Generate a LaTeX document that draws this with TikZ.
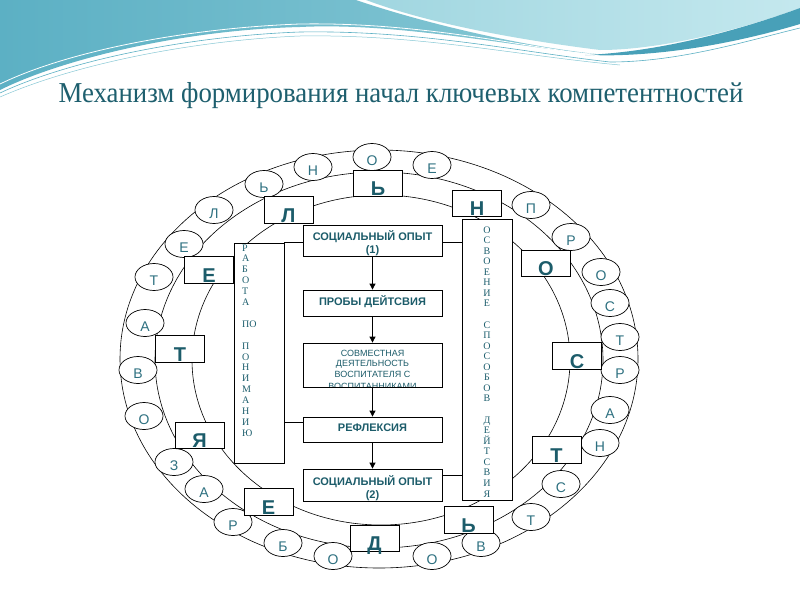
\documentclass[tikz,border=0pt]{standalone}
\usepackage{fontspec}
\setmainfont{Liberation Serif}
\newfontfamily\arialf{Liberation Sans}
\usetikzlibrary{shapes.geometric,arrows.meta}
\definecolor{tealtxt}{RGB}{30,95,110}
\definecolor{ovaltxt}{RGB}{45,112,128}
\definecolor{boxtxt}{RGB}{28,92,106}
\definecolor{waveA}{RGB}{92,176,196}
\definecolor{waveB}{RGB}{135,200,213}
\definecolor{aquaA}{RGB}{160,214,224}
\definecolor{aquaB}{RGB}{196,232,238}
\definecolor{deepwave}{RGB}{72,160,184}
\begin{document}
\begin{tikzpicture}[x=1pt,y=-1pt,
  ring/.style={line width=0.6pt},
  oval/.style={ellipse,draw,fill=white,line width=0.7pt,minimum width=38pt,minimum height=27pt,inner sep=0pt,
    font=\arialf\fontsize{14}{14}\selectfont,text=ovaltxt,text height=16pt,text depth=0pt},
  letterbox/.style={rectangle,draw,fill=white,line width=0.7pt,minimum width=49pt,minimum height=26.5pt,inner sep=0pt,
    font=\arialf\bfseries\fontsize{20}{20}\selectfont,text=boxtxt,text height=24pt,text depth=0pt},
  sidebox/.style={rectangle,draw,fill=white,line width=0.8pt,minimum width=50pt,inner sep=0pt},
  stepbox/.style={rectangle,draw,fill=white,line width=0.8pt,minimum width=139pt,inner sep=0pt},
  steptext/.style={anchor=base,inner sep=0pt,font=\arialf\bfseries\fontsize{11}{13}\selectfont,text=boxtxt},
  steplight/.style={anchor=base,inner sep=0pt,font=\arialf\fontsize{9}{10}\selectfont,text=boxtxt},
  vlet/.style={anchor=base,inner sep=0pt,font=\fontsize{10}{10}\selectfont,text=tealtxt},
  conn/.style={line width=0.8pt},
  arr/.style={line width=0.8pt,-{Triangle[length=6pt,width=6pt]}}
]
\useasboundingbox (0,0) rectangle (800,600);
\fill[white] (0,0) rectangle (800,600);
% ---- top decoration ----
\shade[left color=waveA,right color=waveB]
  (0,0) -- (356,0) .. controls (420,22) and (520,46) .. (596,54)
  .. controls (520,48) and (400,22) .. (300,27)
  .. controls (180,30) and (60,60) .. (0,90) -- cycle;
\shade[left color=aquaA,right color=aquaB]
  (366,0) -- (800,0) -- (800,8)
  .. controls (740,30) and (660,50) .. (600,50)
  .. controls (520,40) and (430,24) .. (366,0) -- cycle;
\fill[deepwave]
  (585,55) .. controls (660,52) and (740,30) .. (800,8) -- (800,24)
  .. controls (740,42) and (660,58) .. (585,55) -- cycle;
\draw[white,line width=0.8pt] (0,84) .. controls (70,50) and (190,28) .. (300,24) .. controls (420,22) and (520,46) .. (600,56);
\draw[waveA,line width=0.6pt] (0,93) .. controls (70,60) and (190,36) .. (300,32) .. controls (420,30) and (520,52) .. (610,62) .. controls (680,62) and (750,40) .. (800,28);
\draw[waveB,line width=0.5pt] (0,97) .. controls (80,62) and (200,40) .. (300,36) .. controls (420,34) and (520,56) .. (620,65);
% ---- title ----
\node[anchor=base,inner sep=0pt,font=\fontsize{28}{28}\selectfont,text=tealtxt] (title) at (401,102)
  {\scalebox{0.958}[1.03]{Механизм формирования начал ключевых компетентностей}};
% ---- rings ----
\draw[ring] (379,359) ellipse [x radius=259, y radius=209];
\draw[ring] (379,360) ellipse [x radius=224, y radius=188];
\draw[ring] (381,360) ellipse [x radius=189, y radius=165];
% ---- ovals ----
\foreach \l/\px/\py [count=\i] in {О/333/556,Б/283/543,Р/233/522,А/204/489,З/174/462,О/144/416,В/138/370,А/145/323,Т/154/277,Е/184/244,Л/214/210,Ь/264/184,Н/313/167,О/372/157,Е/432/165,П/531/205,Р/571/237,О/601/272,С/610/303,Т/620/337,Р/620/370,А/610/410,Н/600/443,С/561/484,Т/531/517,В/481/543,О/432/556}
  \node[oval] (ov\i) at (\px,\py) {\l};
% ---- letter boxes ----
\foreach \l/\px/\py [count=\i] in {Д/374.5/538.5,Е/268.5/502,Я/199.5/435.5,Т/180/349,Е/209/270,Л/288.5/210,Ь/378/183.5,Н/477/203.5,О/546/263.5,С/577/356,Т/556.5/450,Ь/468.5/520}
  \node[letterbox] (lb\i) at (\px,\py) {\l};
% ---- side boxes ----
\node[sidebox,minimum height=220pt] (rab) at (259,353) {};
\node[sidebox,minimum height=281pt] (osv) at (487,359.5) {};
\foreach \l [count=\i] in {Р,А,Б,О,Т,А,~,ПО,~,П,О,Н,И,М,А,Н,И,Ю}
  \node[vlet,anchor=base west] (rl\i) at (242,{251+(\i-1)*10.9}) {\l};
\foreach \l [count=\i] in {О,С,В,О,Е,Н,И,Е,~,С,П,О,С,О,Б,О,В,~,Д,Е,Й,Т,С,В,И,Я}
  \node[vlet] (ol\i) at (487,{233+(\i-1)*10.56}) {\l};
% ---- central steps ----
\node[stepbox,minimum height=31pt] (s1) at (372.5,240.5) {};
\node[stepbox,minimum height=26pt] (s2) at (372.5,303) {};
\node[stepbox,minimum height=44pt] (s3) at (372.5,365) {};
\node[stepbox,minimum height=25pt] (s4) at (372.5,429.5) {};
\node[stepbox,minimum height=32pt] (s5) at (372.5,485) {};
\node[steptext] (t1a) at (372.5,240) {СОЦИАЛЬНЫЙ ОПЫТ};
\node[steptext] (t1b) at (372.5,253) {(1)};
\node[steptext] (t2) at (372.5,305) {ПРОБЫ ДЕЙТСВИЯ};
\begin{scope}
  \clip (s3.north west) rectangle (s3.south east);
  \node[steplight] (t3a) at (372.5,356) {СОВМЕСТНАЯ};
  \node[steplight] (t3b) at (372.5,366.5) {ДЕЯТЕЛЬНОСТЬ};
  \node[steplight] (t3c) at (372.5,377) {ВОСПИТАТЕЛЯ С};
  \node[steplight] (t3d) at (372.5,389.5) {ВОСПИТАННИКАМИ};
\end{scope}
\draw[conn] (s3.south west) -- (s3.south east);
\node[steptext] (t4) at (372.5,431) {РЕФЛЕКСИЯ};
\node[steptext] (t5a) at (372.5,485) {СОЦИАЛЬНЫЙ ОПЫТ};
\node[steptext] (t5b) at (372.5,498) {(2)};
% ---- connectors ----
\draw[arr] (s1.south) -- (s2.north);
\draw[arr] (s2.south) -- (s3.north);
\draw[arr] (s3.south) -- (s4.north);
\draw[arr] (s4.south) -- (s5.north);
\draw[conn] (rab.north east) -- (rab.north east -| s1.west);
\draw[conn] ([yshift=-2pt]s1.east) coordinate (c1) -- (c1 -| osv.west);
\draw[conn] ([yshift=7pt]s4.west) coordinate (c2) -- (c2 -| rab.east);
\draw[conn] ([yshift=10pt]s5.east) coordinate (c3) -- (c3 -| osv.west);
\end{tikzpicture}
\end{document}
